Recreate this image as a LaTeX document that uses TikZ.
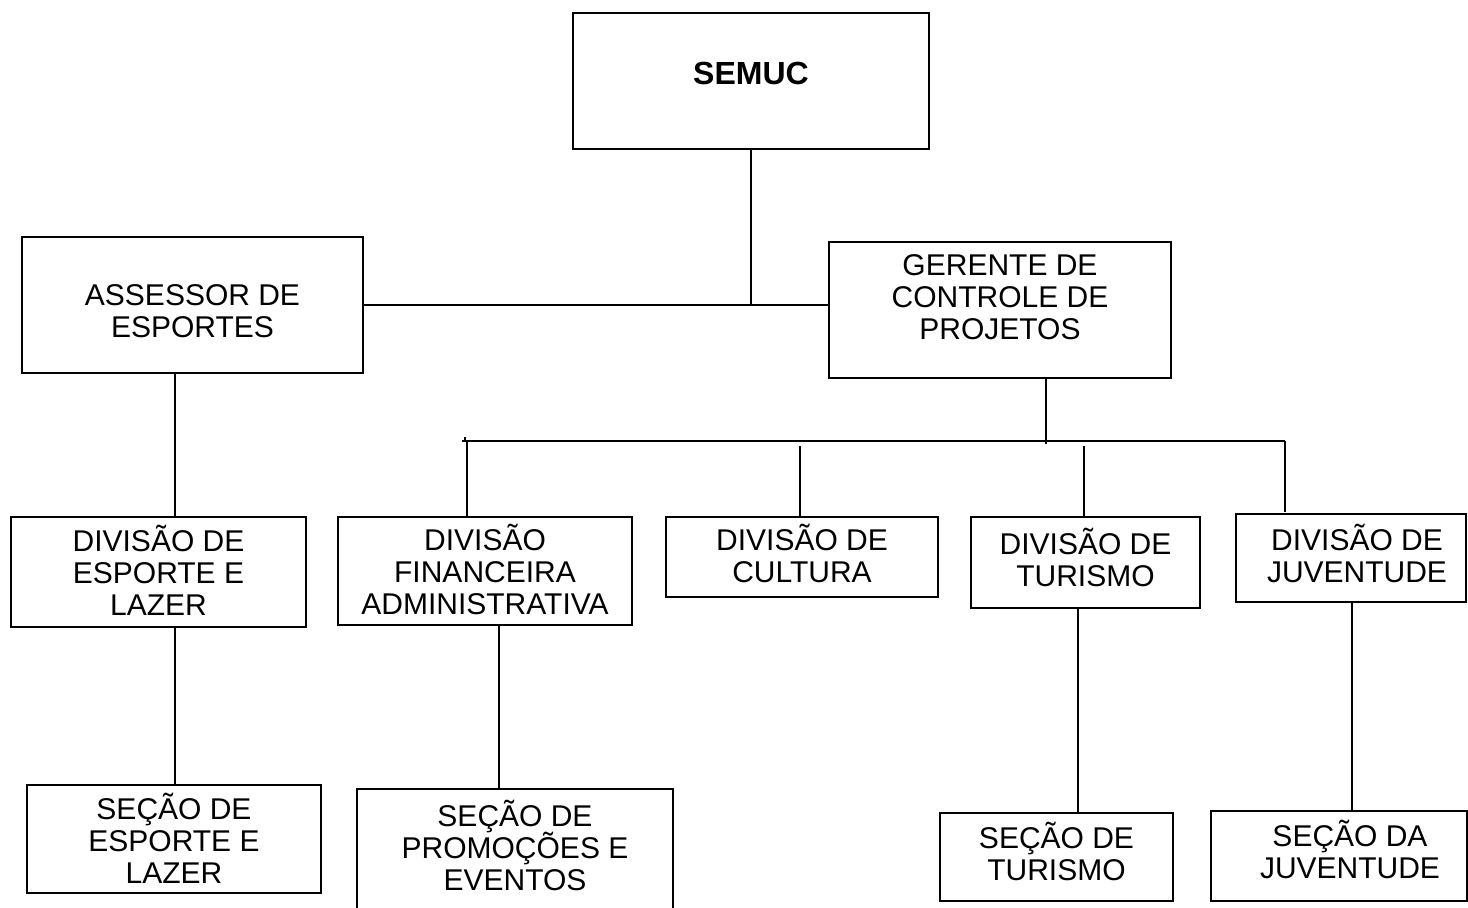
\documentclass[tikz,border=0pt]{standalone}
\usepackage{fontspec}
\setmainfont{Liberation Sans}
\usetikzlibrary{positioning}
\newcommand\fontecaixa{\fontsize{15}{16}\selectfont\lineskiplimit -10pt\relax}
\tikzset{
    % caixas do organograma
    caixa/.style={
           draw,
           line width=0.9pt,
           align=center,
           inner sep=2pt,
           font=\fontecaixa},
    % linhas de ligacao
    liga/.style={
           line width=0.9pt}
}

\begin{document}
\begin{tikzpicture}[x=0.5pt, y=-0.5pt]

\clip (0,0) rectangle (1468,907);
\fill [white] (0,0) rectangle (1468,907);

% topo
\node [caixa, minimum width=178pt, minimum height=68pt, text depth=8pt,
       font=\fontsize{16}{17}\selectfont\bfseries] (semuc) at (751,81) {SEMUC};

% segundo nivel
\node [caixa, minimum width=170.5pt, minimum height=68pt, text height=32pt, text depth=0pt] (assessor) at (192.5,305)
      {ASSESSOR DE\\ESPORTES};
\node [caixa, minimum width=171pt, minimum height=68pt, text depth=13pt] (gerente) at (1000,310)
      {GERENTE DE\\CONTROLE DE\\PROJETOS};

% divisoes
\node [caixa, minimum width=147.5pt, minimum height=55pt, text depth=1.5pt] (divesporte) at (158.5,572)
      {DIVIS\~AO DE\\ESPORTE E\\LAZER};
\node [caixa, minimum width=147pt, minimum height=54pt, text depth=2pt] (divfin) at (485,571)
      {DIVIS\~AO\\FINANCEIRA\\ADMINISTRATIVA};
\node [caixa, minimum width=136pt, minimum height=40pt, text depth=4pt] (divcultura) at (802,557)
      {DIVIS\~AO DE\\CULTURA};
\node [caixa, minimum width=114.5pt, minimum height=45.5pt, text depth=5.5pt] (divturismo) at (1085.5,562.5)
      {DIVIS\~AO DE\\TURISMO};
\node [caixa, minimum width=115pt, minimum height=44pt, text depth=4.5pt] (divjuventude) at (1351,558)
      {\hspace*{6pt}DIVIS\~AO DE\\\hspace*{6pt}JUVENTUDE};

% secoes
\node [caixa, minimum width=147pt, minimum height=54pt, text depth=0.5pt] (secesporte) at (174,839)
      {SE\c{C}\~AO DE\\ESPORTE E\\LAZER};
\node [caixa, minimum width=158pt, minimum height=61pt, text depth=5pt] (secpromo) at (515,850)
      {SE\c{C}\~AO DE\\PROMO\c{C}\~OES E\\EVENTOS};
\node [caixa, minimum width=116.5pt, minimum height=44pt, text depth=6pt] (secturismo) at (1056.5,857)
      {SE\c{C}\~AO DE\\TURISMO};
\node [caixa, minimum width=128pt, minimum height=45pt, text depth=7pt] (secjuventude) at (1339,856)
      {\hspace*{11pt}SE\c{C}\~AO DA\\\hspace*{11pt}JUVENTUDE};

% ligacoes do topo
\draw [liga] (semuc.south) -- (semuc.south |- assessor.east);
\draw [liga] (assessor.east) -- (assessor.east -| gerente.west);

% barra das divisoes
\coordinate (barraE) at (462,441);
\coordinate (barraD) at (1285,441);
\draw [liga] (barraE) -- (barraD);
\draw [liga] ([xshift=1.5pt]barraE) -- ++(0,-4);
\draw [liga] ([xshift=23pt]gerente.south) -- ++(0,65);

% descidas para as divisoes
\draw [liga] ([xshift=-9pt]divfin.north) -- ([xshift=-9pt]divfin.north |- barraE);
\draw [liga] ([xshift=-1pt]divcultura.north) -- ++(0,-70);
\draw [liga] ([xshift=-0.75pt]divturismo.north) -- ++(0,-70);
\draw [liga] (barraD) -- ++(0,71);
\draw [liga] ([xshift=-8.75pt]assessor.south) -- ([xshift=-8.75pt]assessor.south |- divesporte.north);

% descidas para as secoes
\draw [liga] ([xshift=8.25pt]divesporte.south) -- ([xshift=8.25pt]divesporte.south |- secesporte.north);
\draw [liga] ([xshift=7pt]divfin.south) -- ([xshift=7pt]divfin.south |- secpromo.north);
\draw [liga] ([xshift=-3.75pt]divturismo.south) -- ([xshift=-3.75pt]divturismo.south |- secturismo.north);
\draw [liga] ([xshift=0.5pt]divjuventude.south) -- ([xshift=0.5pt]divjuventude.south |- secjuventude.north);

\end{tikzpicture}
\end{document}
